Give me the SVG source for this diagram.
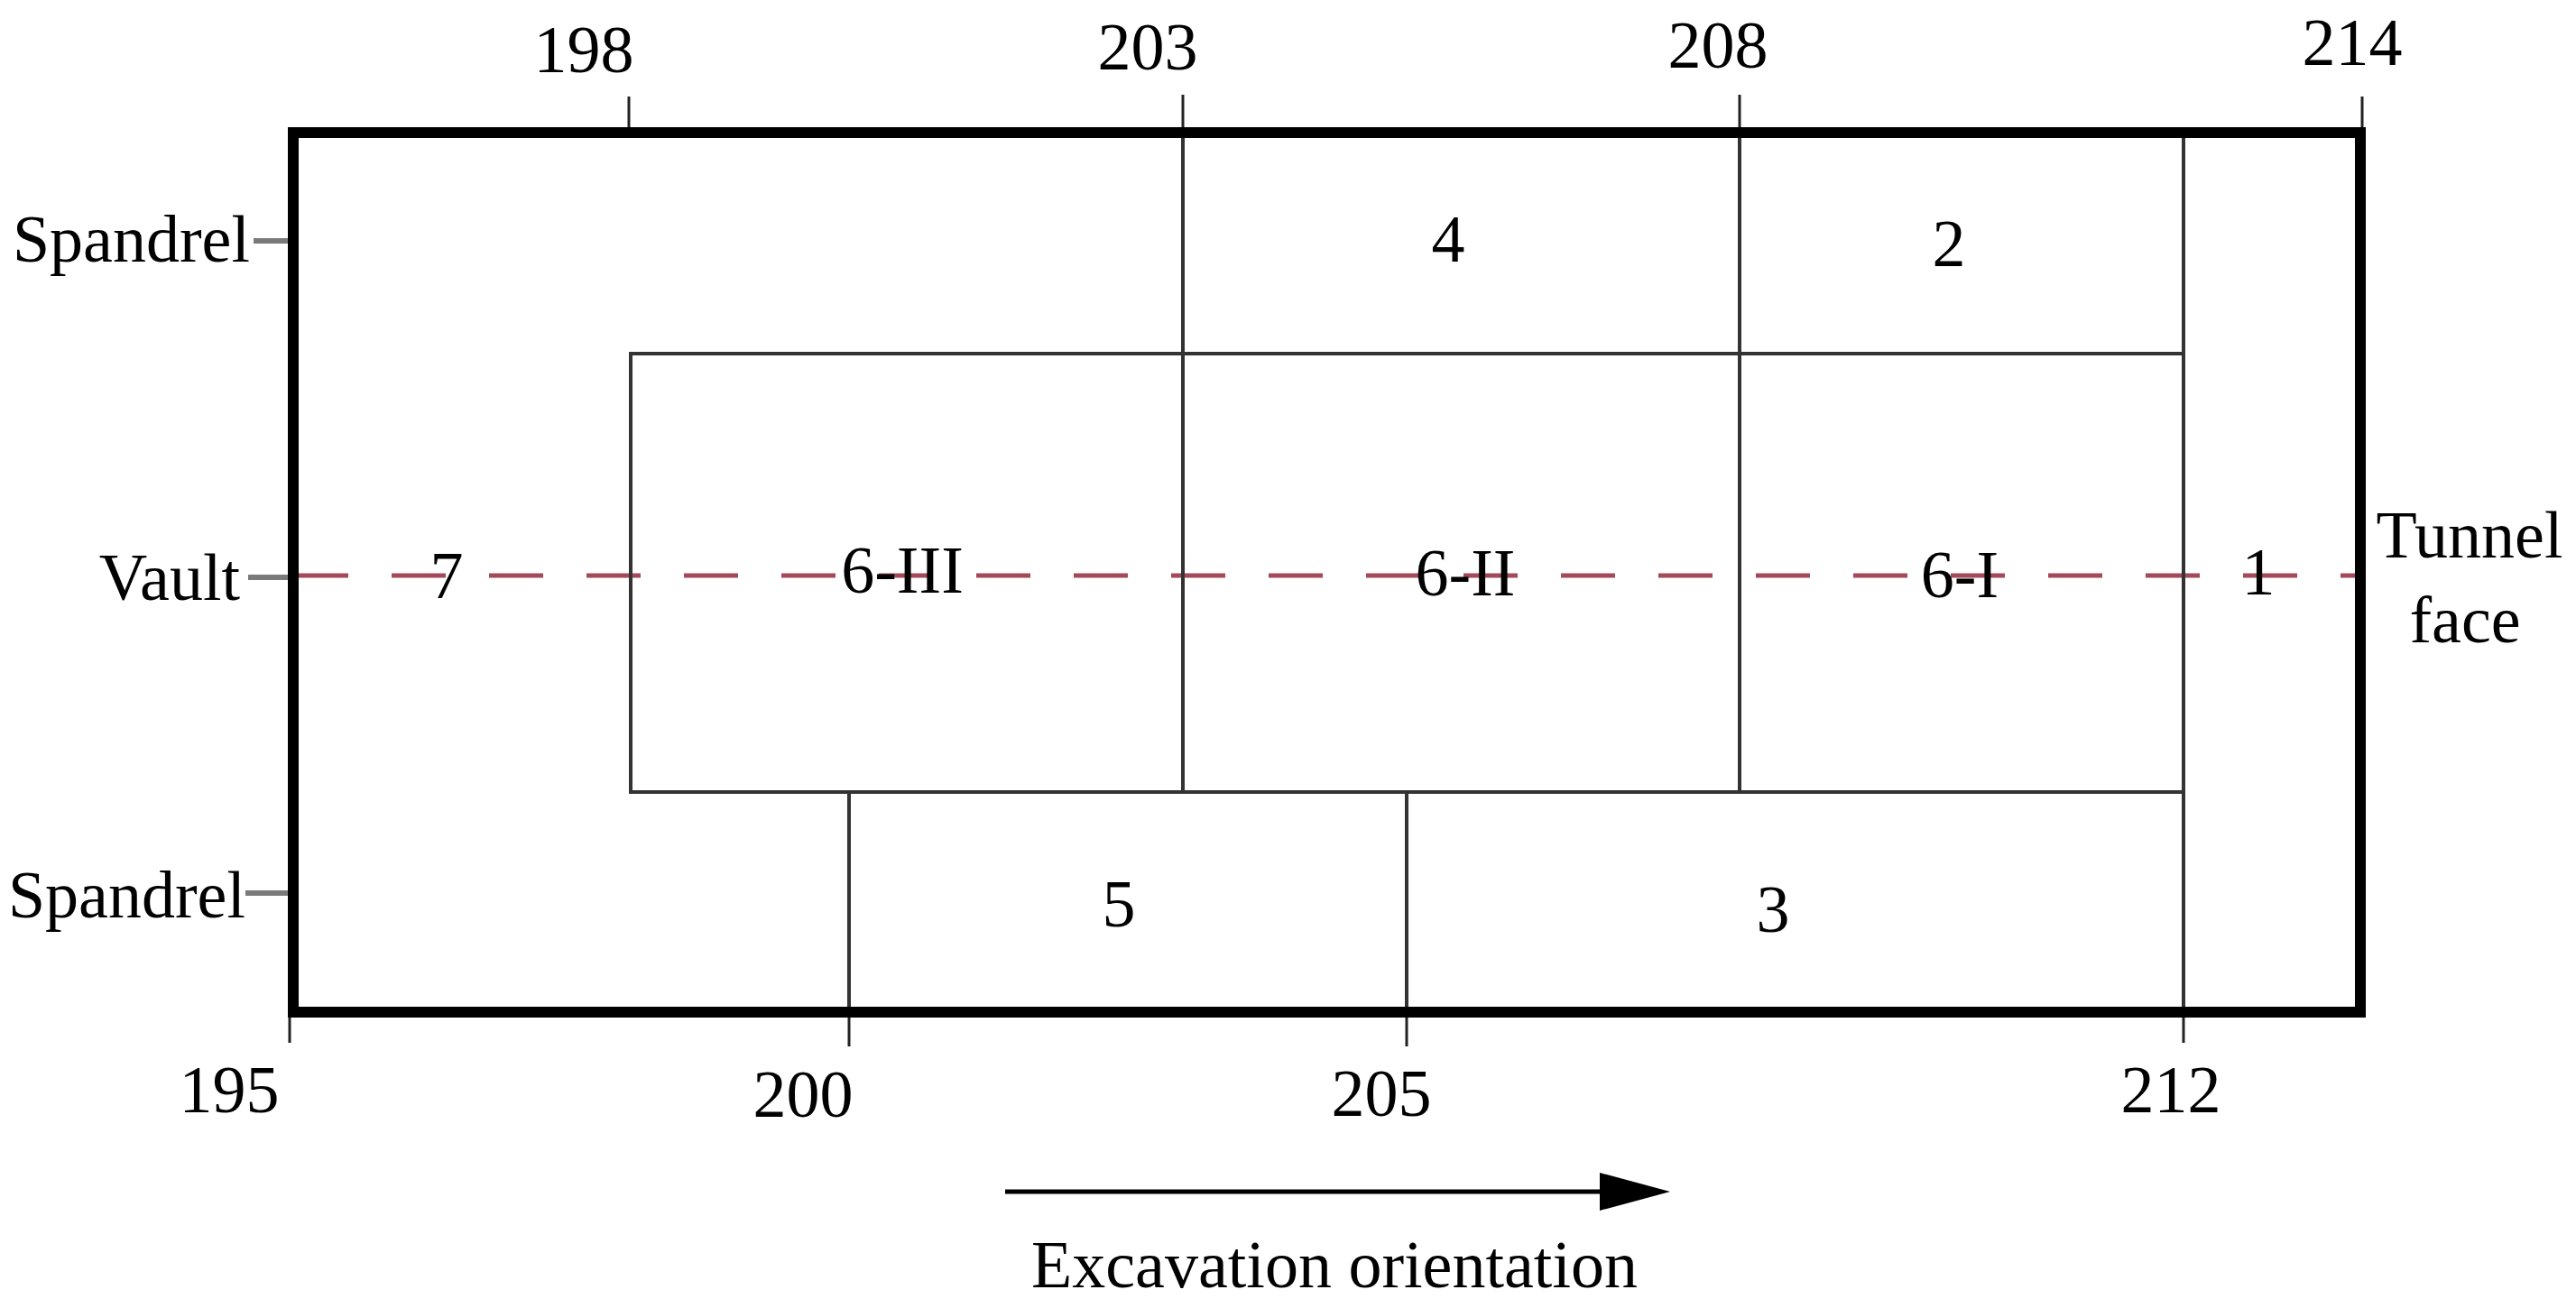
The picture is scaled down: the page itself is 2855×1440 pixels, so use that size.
<svg xmlns="http://www.w3.org/2000/svg" width="2855" height="1440" viewBox="0 0 2855 1440">
  <style>
    text { font-family: "Liberation Serif", "Times New Roman", serif; font-size: 74px; fill: #000; }
    .mid { text-anchor: middle; }
    .end { text-anchor: end; }
    .thin { stroke: #333; stroke-width: 4; fill: none; }
    .tick { stroke: #222; stroke-width: 3; }
    .ltick { stroke: #7a7a7a; stroke-width: 6; }
    .axis { stroke: #a24a5a; stroke-width: 5; stroke-dasharray: 60 48; fill: none; }
  </style>
  <defs>
    <marker id="arrowhead" markerUnits="userSpaceOnUse" markerWidth="80" markerHeight="46" refX="6" refY="23" orient="auto">
      <polygon points="0,2 78,23 0,44" fill="#000"/>
    </marker>
  </defs>
  <rect width="2855" height="1440" fill="#fff"/>

  <g id="connectors">
    <!-- vault axis -->
    <line class="axis" x1="326" y1="638" x2="2615" y2="638"/>
    <!-- internal partition lines -->
    <line class="thin" x1="1311" y1="147" x2="1311" y2="878"/>
    <line class="thin" x1="1928" y1="147" x2="1928" y2="878"/>
    <line class="thin" x1="2420" y1="147" x2="2420" y2="1122"/>
    <rect class="thin" x="699" y="392" width="1721" height="486"/>
    <line class="thin" x1="941" y1="878" x2="941" y2="1122"/>
    <line class="thin" x1="1559" y1="878" x2="1559" y2="1122"/>
    <!-- top ticks -->
    <line class="tick" x1="697" y1="107" x2="697" y2="147"/>
    <line class="tick" x1="1311" y1="105" x2="1311" y2="147"/>
    <line class="tick" x1="1928" y1="105" x2="1928" y2="147"/>
    <line class="tick" x1="2618" y1="107" x2="2618" y2="147"/>
    <!-- bottom ticks -->
    <line class="tick" x1="321" y1="1122" x2="321" y2="1156"/>
    <line class="tick" x1="941" y1="1122" x2="941" y2="1160"/>
    <line class="tick" x1="1559" y1="1122" x2="1559" y2="1160"/>
    <line class="tick" x1="2420" y1="1122" x2="2420" y2="1156"/>
    <!-- left ticks -->
    <line class="ltick" x1="281" y1="267" x2="320" y2="267"/>
    <line class="ltick" x1="275" y1="640" x2="320" y2="640"/>
    <line class="ltick" x1="272" y1="990" x2="320" y2="990"/>
    <!-- outer boundary -->
    <rect x="325" y="147" width="2291" height="975" fill="none" stroke="#000" stroke-width="12"/>
    <!-- excavation arrow -->
    <line x1="1114" y1="1321" x2="1779" y2="1321" stroke="#000" stroke-width="5" marker-end="url(#arrowhead)"/>
  </g>

  <g id="region-1"><text class="mid" x="2503" y="659">1</text></g>
  <g id="region-2"><text class="mid" x="2160" y="295">2</text></g>
  <g id="region-3"><text class="mid" x="1965" y="1033">3</text></g>
  <g id="region-4"><text class="mid" x="1605" y="290">4</text></g>
  <g id="region-5"><text class="mid" x="1240" y="1027">5</text></g>
  <g id="region-6-I"><text class="mid" x="2172" y="662">6-I</text></g>
  <g id="region-6-II"><text class="mid" x="1624" y="660">6-II</text></g>
  <g id="region-6-III"><text class="mid" x="1000" y="657">6-III</text></g>
  <g id="region-7"><text class="mid" x="495" y="663">7</text></g>

  <g id="axis-labels">
    <text class="mid" x="647" y="80">198</text>
    <text class="mid" x="1272" y="77">203</text>
    <text class="mid" x="1904" y="75">208</text>
    <text class="mid" x="2607" y="72">214</text>
    <text class="mid" x="254" y="1233">195</text>
    <text class="mid" x="890" y="1238">200</text>
    <text class="mid" x="1531" y="1237">205</text>
    <text class="mid" x="2406" y="1233">212</text>
  </g>

  <g id="side-labels">
    <text class="end" x="277" y="290">Spandrel</text>
    <text class="end" x="266" y="665">Vault</text>
    <text class="end" x="272" y="1017">Spandrel</text>
    <text class="mid" x="2737" y="618">Tunnel</text>
    <text class="mid" x="2732" y="712">face</text>
  </g>

  <g id="direction-label">
    <text class="mid" x="1479" y="1427">Excavation orientation</text>
  </g>
</svg>
